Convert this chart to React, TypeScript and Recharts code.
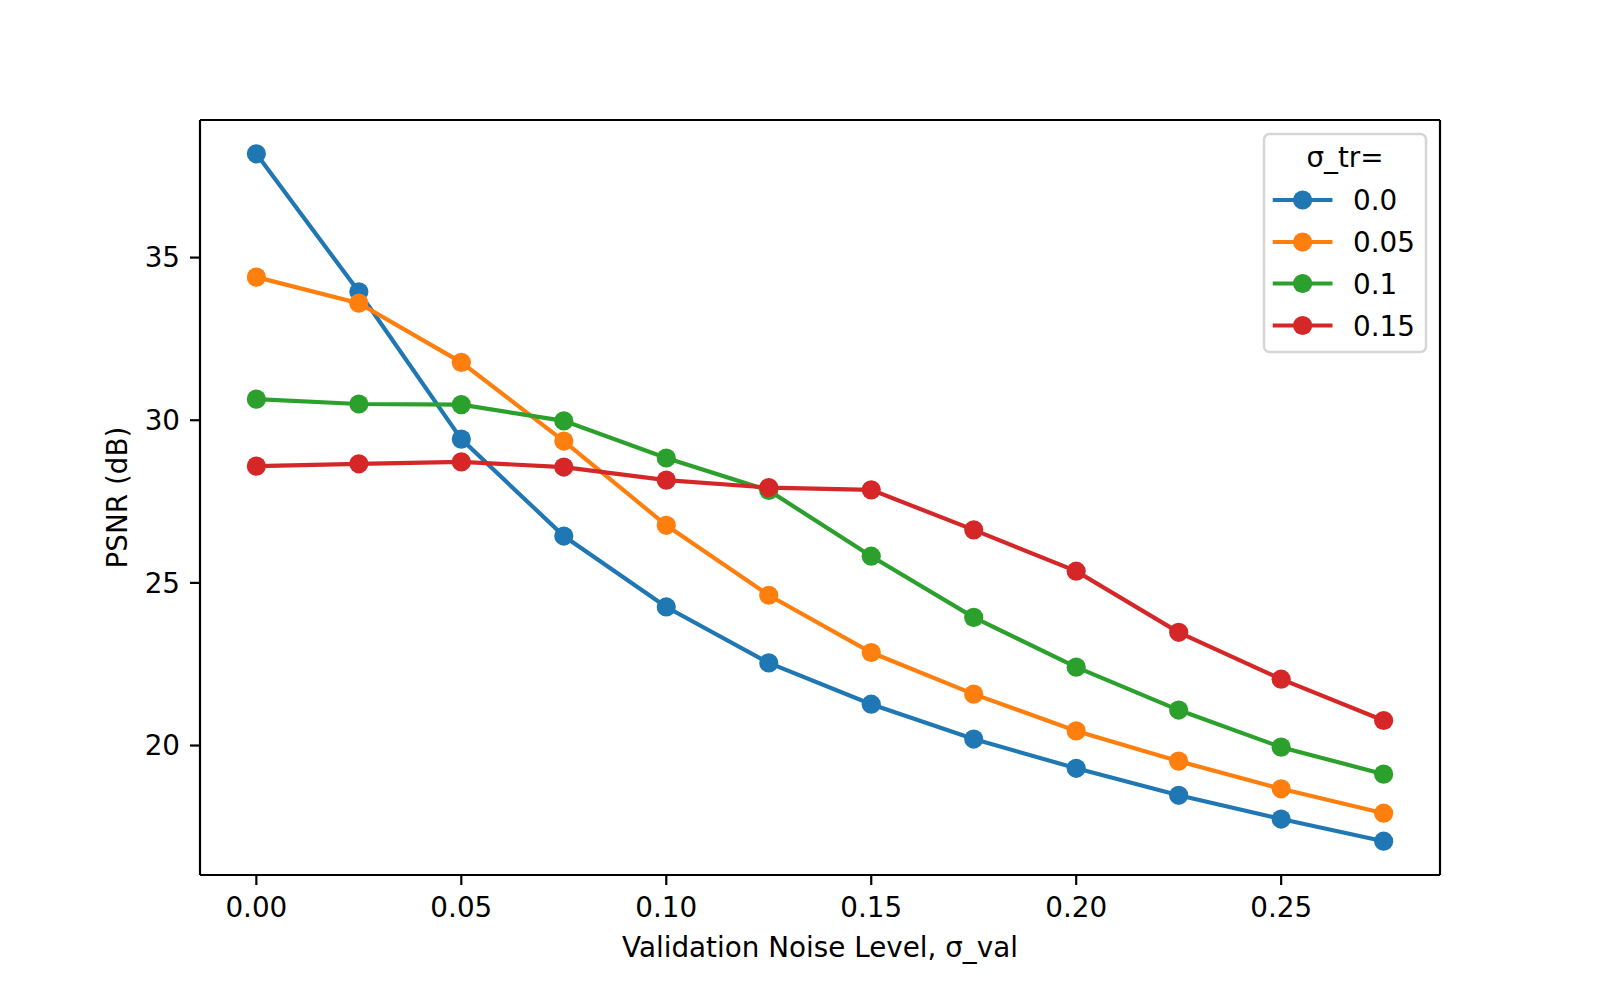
import { LineChart, Line, XAxis, YAxis, ReferenceLine } from "recharts";

// validation noise levels (x)
const sigmaVal = [0, 0.025, 0.05, 0.075, 0.1, 0.125, 0.15, 0.175, 0.2, 0.225, 0.25, 0.275];

// PSNR (dB) for each training noise level
const psnr00 = [38.19, 33.95, 29.42, 26.44, 24.26, 22.54, 21.27, 20.2, 19.3, 18.47, 17.74, 17.06];
const psnr005 = [34.4, 33.6, 31.78, 29.36, 26.77, 24.62, 22.86, 21.58, 20.45, 19.52, 18.67, 17.92];
const psnr01 = [30.65, 30.5, 30.48, 29.98, 28.84, 27.84, 25.82, 23.94, 22.41, 21.09, 19.95, 19.12];
const psnr015 = [28.59, 28.66, 28.72, 28.56, 28.16, 27.93, 27.86, 26.63, 25.36, 23.48, 22.04, 20.77];

const xTicks = [0, 0.05, 0.1, 0.15, 0.2, 0.25];
const yTicks = [20, 25, 30, 35];

const seriesNames = ["0.0", "0.05", "0.1", "0.15"];
const seriesKeys = ["s0", "s1", "s2", "s3"];
const COLORS = ["#1f77b4", "#ff7f0e", "#2ca02c", "#d62728"];

const data = sigmaVal.map((x, i) => ({
  x,
  s0: psnr00[i],
  s1: psnr005[i],
  s2: psnr01[i],
  s3: psnr015[i],
}));

const X_DOMAIN: [number, number] = [-0.01375, 0.28875];
const Y_DOMAIN: [number, number] = [16.02, 39.23];

const FONT = "DejaVu Sans";
const FS = 27.8;
const DOT_R = 9.6;

function LegendBox() {
  const rows = [66, 108, 149.5, 191.5];
  return (
    <g transform="translate(1264,134)">
      <rect
        x={0}
        y={0}
        width={162}
        height={218}
        rx={5.5}
        fill="#fff"
        fillOpacity={0.8}
        stroke="#d6d6d6"
        strokeWidth={2.5}
      />
      <text x={81} y={32.7} textAnchor="middle" fontFamily={FONT} fontSize={FS} fill="#000">
        σ_tr=
      </text>
      {seriesNames.map((name, i) => (
        <g key={name}>
          <line
            x1={10.8}
            x2={66.4}
            y1={rows[i]}
            y2={rows[i]}
            stroke={COLORS[i]}
            strokeWidth={4.17}
            strokeLinecap="square"
          />
          <circle cx={38.6} cy={rows[i]} r={DOT_R} fill={COLORS[i]} />
          <text x={89} y={rows[i] + 10} fontFamily={FONT} fontSize={FS} fill="#000">
            {name}
          </text>
        </g>
      ))}
    </g>
  );
}

export default function App() {
  const tickStyle = { fontSize: FS, fill: "#000", fontFamily: FONT };
  const axisLine = { stroke: "#000", strokeWidth: 2.2 };
  return (
    <div style={{ position: "absolute", left: 0, top: 0, width: 1600, height: 1000, background: "#fff" }}>
      <LineChart width={1600} height={1000} data={data} margin={{ top: 120, right: 160, left: 0, bottom: 0 }}>
        <XAxis
          dataKey="x"
          type="number"
          domain={X_DOMAIN}
          allowDataOverflow
          ticks={xTicks}
          tickFormatter={(v: number) => v.toFixed(2)}
          height={125}
          tickSize={10}
          tickMargin={12}
          tick={tickStyle}
          tickLine={axisLine}
          axisLine={axisLine}
        />
        <YAxis
          type="number"
          domain={Y_DOMAIN}
          allowDataOverflow
          ticks={yTicks}
          width={200}
          tickSize={10}
          tickMargin={10}
          tick={tickStyle}
          tickLine={axisLine}
          axisLine={axisLine}
        />
        {/* top and right spines */}
        <ReferenceLine y={Y_DOMAIN[1]} stroke="#000" strokeWidth={2.2} />
        <ReferenceLine x={X_DOMAIN[1]} stroke="#000" strokeWidth={2.2} />
        {seriesKeys.map((key, i) => (
          <Line
            key={key}
            dataKey={key}
            name={seriesNames[i]}
            type="linear"
            stroke={COLORS[i]}
            strokeWidth={4.17}
            dot={{ r: DOT_R, fill: COLORS[i], stroke: "none" }}
            activeDot={false}
            isAnimationActive={false}
          />
        ))}
      </LineChart>
      <svg width={1600} height={1000} style={{ position: "absolute", left: 0, top: 0, pointerEvents: "none" }}>
        <text
          x={126.5}
          y={497.5}
          transform="rotate(-90, 126.5, 497.5)"
          textAnchor="middle"
          fontFamily={FONT}
          fontSize={FS}
          fill="#000"
        >
          PSNR (dB)
        </text>
        <text x={820} y={956.7} textAnchor="middle" fontFamily={FONT} fontSize={FS} fill="#000">
          Validation Noise Level, σ_val
        </text>
        <LegendBox />
      </svg>
    </div>
  );
}
